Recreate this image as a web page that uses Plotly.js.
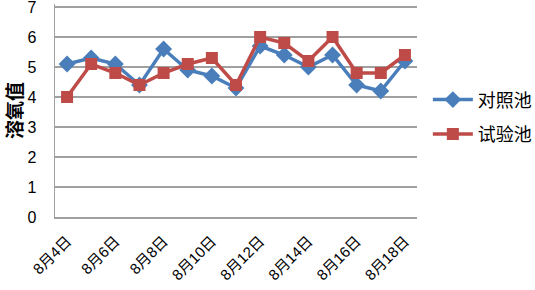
<!DOCTYPE html>
<html><head><meta charset="utf-8">
<script src="https://cdn.plot.ly/plotly-3.0.1.min.js"></script>
<style>html,body{margin:0;padding:0;background:#fff}#c{width:535px;height:290px}</style>
</head><body><div id="c"></div>
<script>
const categories = ["8月4日","8月5日","8月6日","8月7日","8月8日","8月9日","8月10日","8月11日","8月12日","8月13日","8月14日","8月15日","8月16日","8月17日","8月18日"];
const controlValues = [5.1,5.3,5.1,4.4,5.6,4.9,4.7,4.3,5.7,5.4,5.0,5.4,4.4,4.2,5.2];
const trialValues = [4.0,5.1,4.8,4.4,4.8,5.1,5.3,4.4,6.0,5.8,5.2,6.0,4.8,4.8,5.4];
const tickLabels = categories.filter((c,i)=>i%2===0);
const yTicks = [0,1,2,3,4,5,6,7];
const font = "Liberation Sans, Noto Sans CJK SC, sans-serif";
const traces = [
 {x:categories,y:controlValues,name:"对照池",type:"scatter",mode:"lines+markers",legendgroup:"a",
  line:{color:"#4a7ebb",width:3.5},marker:{symbol:"diamond",size:13,color:"#4a7ebb"}},
 {x:categories,y:trialValues,name:"试验池",type:"scatter",mode:"lines+markers",legendgroup:"b",
  line:{color:"#be4b48",width:3.5},marker:{symbol:"square",size:12,color:"#be4b48"}}
];
const layout = {
 width:535,height:290,margin:{l:55,r:118,t:4,b:73,autoexpand:false},
 paper_bgcolor:"#fff",plot_bgcolor:"#fff",
 font:{family:font,size:15,color:"#000"},
 showlegend:true,
 legend:{x:1.03,y:0.47,xanchor:"left",yanchor:"middle",font:{size:18,family:"Noto Sans CJK SC"},tracegroupgap:8,itemwidth:40},
 xaxis:{type:"category",range:[-0.5,14.5],tickvals:tickLabels,ticktext:tickLabels,tickangle:-45,
  showgrid:false,showline:true,linecolor:"#a0a0a0",linewidth:1.5,ticks:"",ticklabelstandoff:8,zeroline:false,automargin:false,
  tickfont:{size:15,family:font}},
 yaxis:{range:[0,7.1],tickmode:"array",tickvals:yTicks,ticktext:yTicks.map(String),showgrid:true,gridcolor:"#a0a0a0",gridwidth:1.5,showline:true,
  linecolor:"#a0a0a0",linewidth:1.5,ticks:"",ticklabelstandoff:14,ticklabeloverflow:"allow",zeroline:false,automargin:false,
  tickfont:{size:16},
  title:{text:"溶氧值",font:{size:19,family:"Noto Sans CJK SC",weight:"bold"},standoff:12}}
};
Plotly.newPlot("c",traces,layout,{displayModeBar:false,staticPlot:true});
</script></body></html>
